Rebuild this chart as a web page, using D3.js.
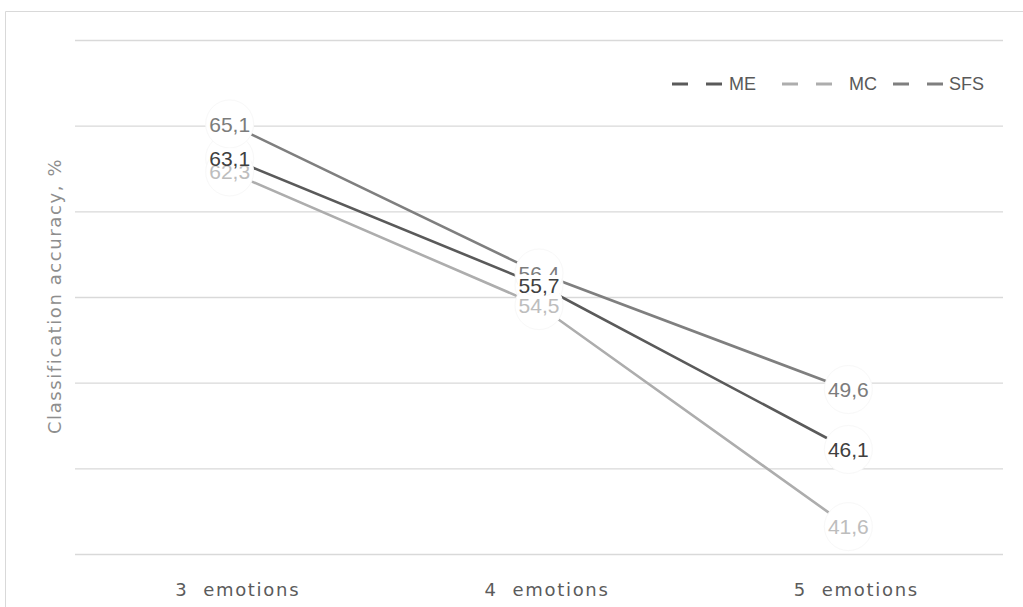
<!DOCTYPE html>
<html>
<head>
<meta charset="utf-8">
<script src="https://cdn.jsdelivr.net/npm/d3@7"></script>
<style>
  html, body { margin: 0; padding: 0; background: #fff; }
  svg { display: block; }
</style>
</head>
<body>
<svg id="chart" width="1023" height="607"></svg>
<script>
// Classification accuracy by number of emotions, per feature-selection method
const categories = ["3  emotions", "4  emotions", "5  emotions"];
const seriesNames = ["ME", "MC", "SFS"];
const meValues = [63.1, 55.7, 46.1];
const mcValues = [62.3, 54.5, 41.6];
const sfsValues = [65.1, 56.4, 49.6];
const yTicks = [40, 45, 50, 55, 60, 65, 70];
const yTitle = "Classification accuracy, %";

const series = [
  { name: "ME",  values: meValues,  line: "#5a5a5a", text: "#404040" },
  { name: "MC",  values: mcValues,  line: "#adadad", text: "#bdbdbd" },
  { name: "SFS", values: sfsValues, line: "#7f7f7f", text: "#7c7c7c" }
];

const svg = d3.select("#chart");
const W = 1023, H = 607;
const plot = { left: 75, right: 1003, top: 40, bottom: 554 };

// outer chart frame
svg.append("path")
  .attr("d", `M5.5,${H} V11.5 H${W}`)
  .attr("fill", "none")
  .attr("stroke", "#d9d9d9")
  .attr("stroke-width", 1);

const x = d3.scaleBand().domain(categories).range([plot.left, plot.right]);
const y = d3.scaleLinear().domain([40, 70]).range([plot.bottom, plot.top]);
const cx = c => x(c) + x.bandwidth() / 2;

// horizontal gridlines
const grid = svg.append("g")
  .attr("transform", `translate(${plot.left},0)`)
  .call(d3.axisLeft(y).tickValues(yTicks).tickSize(-(plot.right - plot.left)).tickFormat(""));
grid.select(".domain").remove();
grid.selectAll(".tick line").attr("stroke", "#d9d9d9").attr("stroke-width", 1.3);

// category labels
const xAxis = svg.append("g")
  .attr("transform", `translate(8,${plot.bottom})`)
  .call(d3.axisBottom(x).tickSize(0).tickPadding(29));
xAxis.select(".domain").remove();
xAxis.selectAll("text")
  .attr("fill", "#5b5b5b")
  .style("font-family", "'DejaVu Sans', sans-serif")
  .style("font-size", "18px")
  .style("letter-spacing", "1.7px")
  .style("white-space", "pre");

// y axis title
svg.append("text")
  .attr("transform", `translate(61,296) rotate(-90)`)
  .attr("text-anchor", "middle")
  .attr("fill", "#8e8e8e")
  .style("font-family", "'DejaVu Sans', sans-serif")
  .style("font-size", "18px")
  .style("letter-spacing", "1.6px")
  .text(yTitle);

// series lines
const line = d3.line().x((d, i) => cx(categories[i])).y(d => y(d));
svg.append("g").selectAll("path")
  .data(series)
  .join("path")
  .attr("d", s => line(s.values))
  .attr("fill", "none")
  .attr("stroke", s => s.line)
  .attr("stroke-width", 2.6);

// round label callouts hiding the line ends
const labels = [];
series.forEach(s => s.values.forEach((v, i) => labels.push({ s, v, c: categories[i] })));
svg.append("g").selectAll("circle")
  .data(labels)
  .join("circle")
  .attr("cx", d => cx(d.c))
  .attr("cy", d => y(d.v))
  .attr("r", 24)
  .attr("fill", "#fff")
  .attr("stroke", "#f8f8f8")
  .attr("stroke-width", 1);

// value labels, drawn SFS, MC, ME so ME sits on top
const fmt = v => d3.format(".1f")(v).replace(".", ",");
const order = ["SFS", "MC", "ME"];
const labelG = svg.append("g");
order.forEach(name => {
  labels.filter(d => d.s.name === name).forEach(d => {
    const g = labelG.append("g").attr("transform", `translate(${cx(d.c)},${y(d.v)})`);
    g.append("rect")
      .attr("x", -21).attr("y", -10).attr("width", 42).attr("height", 18)
      .attr("fill", "#fff");
    g.append("text")
      .attr("text-anchor", "middle")
      .attr("dy", "0.36em")
      .attr("fill", d.s.text)
      .style("font-family", "'Liberation Sans', Arial, sans-serif")
      .style("font-size", "21px")
      .text(fmt(d.v));
  });
});

// legend with dashed markers
const legendItems = [
  { name: "ME",  x: 672, tx: 729 },
  { name: "MC",  x: 782, tx: 849 },
  { name: "SFS", x: 893, tx: 949 }
];
const legend = svg.append("g");
legendItems.forEach(item => {
  const s = series.find(d => d.name === item.name);
  legend.append("line")
    .attr("x1", item.x).attr("x2", item.x + 51)
    .attr("y1", 84).attr("y2", 84)
    .attr("stroke", s.line)
    .attr("stroke-width", 3.2)
    .attr("stroke-dasharray", "16,18");
  legend.append("text")
    .attr("x", item.tx).attr("y", 84)
    .attr("dy", "0.35em")
    .attr("fill", "#595959")
    .style("font-family", "'Liberation Sans', Arial, sans-serif")
    .style("font-size", "18px")
    .text(item.name);
});
</script>
</body>
</html>
